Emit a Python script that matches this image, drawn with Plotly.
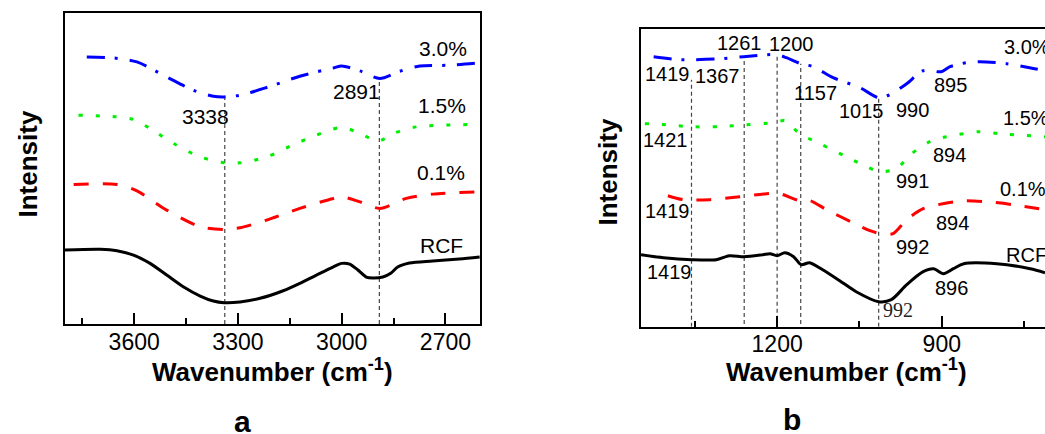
import plotly.graph_objects as go

# ---------------- Panel a data (wavenumber cm-1, intensity a.u.) ----------------
a_rcf_wn = [3800, 3698, 3650, 3602, 3554, 3506, 3458, 3409, 3371, 3340, 3294, 3236, 3169, 3121,
            3073, 3024, 3000, 2977, 2953, 2929, 2910, 2881, 2857, 2838, 2804, 2737, 2660, 2601]
a_rcf_y = [74, 74.7, 73.3, 69, 60.7, 49, 37.3, 28, 23, 21.3, 22, 25.7, 33.3, 40.7,
           49, 57.3, 60.7, 60, 54, 47, 46, 47, 51, 57, 61, 63, 65, 67]

a_01_wn = [3775, 3650, 3592, 3506, 3409, 3340, 3294, 3217, 3121, 3024, 3000, 2947, 2890, 2813, 2736, 2601]
a_01_y = [139.7, 139.7, 133.3, 114, 97.3, 94.7, 96.3, 104, 115.7, 125.7, 127.3, 122.3, 115.7, 125.7, 130, 132.3]

a_15_wn = [3761, 3650, 3602, 3554, 3486, 3409, 3340, 3294, 3217, 3121, 3000, 2947, 2895, 2851, 2784, 2601]
a_15_y = [209, 207.3, 204.7, 195.7, 180.7, 167.3, 161.3, 161.3, 167.3, 182.3, 196.7, 190.7, 183, 190.7, 197.3, 199.7]

a_30_wn = [3737, 3660, 3592, 3506, 3429, 3371, 3340, 3294, 3217, 3121, 3024, 3000, 2947, 2890, 2832, 2774, 2688, 2601]
a_30_y = [267.3, 266.3, 262.3, 247.3, 234, 228, 227.3, 229, 236.7, 248, 256.3, 258.3, 253.3, 245.7, 253, 258.3, 259, 261.3]

a_peaks = [3338, 2891]
a_peak_tops = [227, 246]

# ---------------- Panel b data ----------------
b_rcf_wn = [1448, 1407, 1356, 1311, 1287, 1260, 1226, 1213, 1200, 1186, 1170, 1156, 1141, 1117,
            1086, 1056, 1015, 992, 964, 934, 915, 897, 879, 860, 800, 739, 712]
b_rcf_y = [72, 69, 67, 67, 71, 70, 72, 73, 71, 74, 70, 62, 64, 57,
           46, 35, 25, 27, 42, 55, 58, 53, 58, 63, 63, 58, 54]

b_01_wn = [1399, 1371, 1323, 1268, 1219, 1195, 1159, 1140, 1110, 1062, 1031, 1010, 989, 964, 934, 898, 861, 819, 770, 712]
b_01_y = [131, 127, 127, 130, 133, 133, 126, 126, 117, 104, 96, 93, 93, 107, 118, 123, 126, 125, 122, 117]

b_15_wn = [1441, 1402, 1359, 1304, 1256, 1207, 1186, 1159, 1122, 1074, 1037, 1013, 983, 955, 922, 892, 861, 831, 794, 712]
b_15_y = [203, 202, 200, 200, 202, 204, 206, 193, 183, 170, 160, 155, 158, 173, 185, 190, 193, 195, 193, 190]

b_30_wn = [1425, 1377, 1353, 1304, 1261, 1219, 1199, 1183, 1157, 1134, 1098, 1049, 1015, 995, 964, 934, 901, 885, 855, 831, 782, 740, 712]
b_30_y = [270, 267, 267, 268, 270, 272, 272, 269, 263, 260, 249, 239, 229, 232, 243, 256, 255, 260, 264, 265, 263, 259, 256]

b_peaks = [1356, 1260, 1200, 1157, 1015]
b_peak_bottoms = [0, 2.7, 0, 2.7, 0]
b_peak_tops = [247, 270, 271.7, 263, 230.7]

# ---------------- Text labels ----------------
a_labels = ["3.0%", "1.5%", "0.1%", "RCF", "3338", "2891"]
a_label_wn = [2708, 2711, 2714, 2711, 3395, 2956]
a_label_y = [276, 219, 152, 79, 208, 233]

b_labels = ["1419", "1367", "1261", "1200", "1157", "1015", "990", "895", "3.0%",
            "1421", "1.5%", "894", "991",
            "1419", "0.1%", "894", "992",
            "RCF", "1419", "896"]
b_label_wn = [1399, 1308, 1268, 1174, 1131, 1046, 953, 884, 745,
              1403, 747, 886, 953,
              1399, 752, 880, 953,
              745, 1396, 882]
b_label_y = [252.7, 250.7, 283.7, 282.7, 233.7, 215.7, 216.7, 241.7, 279.7,
             186.7, 208.7, 171.7, 145.7,
             115.7, 137.7, 103.7, 79.7,
             71.7, 54.7, 38.7]
b_serif_label = "992"
b_serif_wn = 980
b_serif_y = 16.7

FONT = "Arial, 'Liberation Sans', sans-serif"
W, H = 1045, 434

fig = go.Figure()

styles = {
    "rcf": dict(color="black", dash="solid"),
    "01": dict(color="#ff0000", dash="15px,14px"),
    "15": dict(color="#00ee00", dash="4px,13px"),
    "30": dict(color="#0000ff", dash="18px,10px,3px,12px"),
}


def add_curve(x, y, key, xa, ya):
    st = styles[key]
    fig.add_trace(go.Scatter(x=x, y=y, mode="lines", xaxis=xa, yaxis=ya,
                             line=dict(color=st["color"], width=3, dash=st["dash"],
                                       shape="spline", smoothing=0.8),
                             showlegend=False, hoverinfo="skip"))


def add_peaks(peaks, bottoms, tops, xa, ya):
    xs, ys = [], []
    for p, b, t in zip(peaks, bottoms, tops):
        xs += [p, p, None]
        ys += [b, t, None]
    fig.add_trace(go.Scatter(x=xs, y=ys, mode="lines", xaxis=xa, yaxis=ya,
                             line=dict(color="#444444", width=1.2, dash="4px,3px"),
                             showlegend=False, hoverinfo="skip"))


add_peaks(a_peaks, [0] * len(a_peaks), a_peak_tops, "x", "y")
add_curve(a_rcf_wn, a_rcf_y, "rcf", "x", "y")
add_curve(a_01_wn, a_01_y, "01", "x", "y")
add_curve(a_15_wn, a_15_y, "15", "x", "y")
add_curve(a_30_wn, a_30_y, "30", "x", "y")

add_peaks(b_peaks, b_peak_bottoms, b_peak_tops, "x2", "y2")
add_curve(b_rcf_wn, b_rcf_y, "rcf", "x2", "y2")
add_curve(b_01_wn, b_01_y, "01", "x2", "y2")
add_curve(b_15_wn, b_15_y, "15", "x2", "y2")
add_curve(b_30_wn, b_30_y, "30", "x2", "y2")

common_x = dict(showline=True, linecolor="black", linewidth=2, mirror=True,
                ticks="inside", ticklen=11, tickwidth=2, tickcolor="black",
                dtick=300, tick0=0, ticklabelstandoff=-4,
                minor=dict(ticks="inside", ticklen=6, tickwidth=2, tickcolor="black", dtick=150, tick0=0),
                showgrid=False, zeroline=False,
                tickfont=dict(family=FONT, size=23, color="black"))
common_y = dict(showline=True, linecolor="black", linewidth=2, showticklabels=False,
                ticks="", showgrid=False, zeroline=False)

fig.update_layout(
    width=W, height=H, margin=dict(l=0, r=0, t=0, b=0),
    paper_bgcolor="white", plot_bgcolor="white",
    xaxis=dict(domain=[65 / W, 480 / W], range=[3800, 2600], anchor="y", **common_x),
    yaxis=dict(domain=[(H - 324) / H, (H - 13.3) / H], range=[0, 311], anchor="x", mirror=True, **common_y),
    xaxis2=dict(domain=[641 / W, 1.0], range=[1448, 712], anchor="y2", **common_x),
    yaxis2=dict(domain=[(H - 326.7) / H, (H - 29) / H], range=[0, 297.7], anchor="x2", mirror=False, **common_y),
)

ann = []
for t, x, y in zip(a_labels, a_label_wn, a_label_y):
    ann.append(dict(text=t, x=x, y=y, xref="x", yref="y", showarrow=False,
                    xanchor="center", yanchor="middle",
                    font=dict(family=FONT, size=21, color="black")))
for t, x, y in zip(b_labels, b_label_wn, b_label_y):
    ann.append(dict(text=t, x=x, y=y, xref="x2", yref="y2", showarrow=False,
                    xanchor="center", yanchor="middle",
                    font=dict(family=FONT, size=20, color="black")))
ann.append(dict(text=b_serif_label, x=b_serif_wn, y=b_serif_y, xref="x2", yref="y2", showarrow=False,
                xanchor="center", yanchor="middle",
                font=dict(family="'Liberation Serif', 'Times New Roman', serif", size=20, color="#222222")))

title_font = dict(family=FONT, size=26, color="black")


def paper_text(text, px, py, font, angle=0):
    return dict(text=text, x=px / W, y=(H - py) / H, xref="paper", yref="paper",
                xanchor="center", yanchor="middle", showarrow=False, textangle=angle, font=font)


ann += [
    paper_text("<b>Wavenumber (cm<sup>-1</sup>)</b>", 272, 370, title_font),
    paper_text("<b>Wavenumber (cm<sup>-1</sup>)</b>", 846, 370, title_font),
    paper_text("<b>Intensity</b>", 27.5, 164, title_font, -90),
    paper_text("<b>Intensity</b>", 607, 172.5, title_font, -90),
    paper_text("<b>a</b>", 242, 421, dict(family=FONT, size=30, color="black")),
    paper_text("<b>b</b>", 792, 419, dict(family=FONT, size=30, color="black")),
]
fig.update_layout(annotations=ann)

fig.write_html("out.html", config={"displayModeBar": False},
               post_script="document.body.style.margin='0';")
